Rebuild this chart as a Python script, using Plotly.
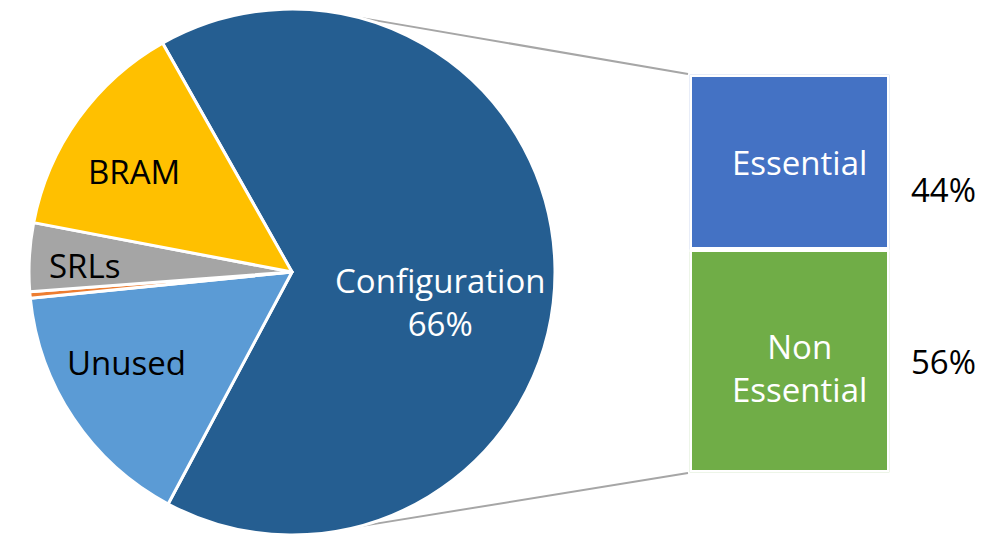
import math
import plotly.graph_objects as go

# Main pie: share of bits by category
pie_labels = ["Configuration", "Unused", "Other", "SRLs", "BRAM"]
pie_values = [66, 15.6, 0.4, 4.2, 13.8]
pie_colors = ["#255E91", "#5B9BD5", "#ED7D31", "#A5A5A5", "#FFC000"]

# Breakdown of the Configuration slice
bar_labels = ["Non<br>Essential", "Essential"]
bar_values = [56, 44]
bar_colors = ["#70AD47", "#4472C4"]

W, H = 1003, 536
FONT = "Open Sans, sans-serif"
FS = 33

# pie geometry (pixels from top-left)
cx, cy, R = 292, 272, 263
rotation = -29.5  # start angle of the first slice, clockwise from 12 o'clock

def px_to_paper(x, y):
    return x / W, 1 - y / H

fig = go.Figure()

fig.add_trace(go.Pie(
    labels=pie_labels,
    values=pie_values,
    sort=False,
    direction="clockwise",
    rotation=rotation,
    marker=dict(colors=pie_colors, line=dict(color="white", width=3)),
    textinfo="none",
    hoverinfo="label+percent",
    domain=dict(x=[(cx - R) / W, (cx + R) / W],
                y=[(H - cy - R) / H, (H - cy + R) / H]),
    showlegend=False,
))

# stacked bar for the Configuration breakdown
bar_px = dict(x0=692, x1=887, y0=77, y1=470)
LINE_W = 5
half = LINE_W / 2
xdom = [(bar_px["x0"] - half) / W, (bar_px["x1"] + half) / W]
ydom = [(H - bar_px["y1"] - half) / H, (H - bar_px["y0"] + half) / H]

# per-segment label nudges (pixels): (name xshift, name yshift, value yshift)
bar_shift = {"Essential": (10, 0, -27), "Non<br>Essential": (10, -7, 0)}

base = 0
for lab, val, col in zip(bar_labels, bar_values, bar_colors):
    fig.add_trace(go.Bar(
        x=[0], y=[val], base=[base], width=[1],
        marker=dict(color=col, line=dict(color="white", width=LINE_W)),
        hoverinfo="none", showlegend=False, xaxis="x", yaxis="y",
    ))
    sx, sy, vy = bar_shift[lab]
    fig.add_annotation(
        x=0, xref="x", y=base + val / 2, yref="y",
        xanchor="center", yanchor="middle", align="center",
        text=lab, showarrow=False, xshift=sx, yshift=sy,
        font=dict(size=FS, color="white", family=FONT),
    )
    fig.add_annotation(
        x=(bar_px["x1"] + 56) / W, xref="paper",
        y=base + val / 2, yref="y",
        xanchor="center", yanchor="middle",
        text=f"{val}%", showarrow=False, yshift=vy,
        font=dict(size=FS, color="black", family=FONT),
    )
    base += val

total = sum(pie_values)

# slice labels placed inside the pie
label_pos = {
    "Configuration": (440, 302),
    "BRAM": (134, 172),
    "SRLs": (84, 265),
    "Unused": (126, 362),
}
for lab, val in zip(pie_labels, pie_values):
    if lab not in label_pos:
        continue
    x, y = px_to_paper(*label_pos[lab])
    if lab == "Configuration":
        txt = f"{lab}<br>{round(100 * val / total)}%"
        color = "white"
    else:
        txt = lab
        color = "black"
    fig.add_annotation(x=x, y=y, xref="paper", yref="paper", text=txt,
                       xanchor="center", yanchor="middle",
                       showarrow=False, align="center",
                       font=dict(size=FS, color=color, family=FONT))

# connector lines from the Configuration slice edge to the bar corners
def pie_edge(angle_deg):
    a = math.radians(angle_deg)
    return cx + R * math.sin(a), cy - R * math.cos(a)

for ang, (bx, by) in [(14.5, (688, 74)), (165.5, (688, 473))]:
    px, py = pie_edge(ang)
    x0, y0 = px_to_paper(px, py)
    x1, y1 = px_to_paper(bx, by)
    fig.add_shape(type="line", xref="paper", yref="paper",
                  x0=x0, y0=y0, x1=x1, y1=y1,
                  line=dict(color="#A6A6A6", width=2), layer="below")

fig.update_layout(
    width=W, height=H,
    margin=dict(l=0, r=0, t=0, b=0),
    paper_bgcolor="white", plot_bgcolor="white",
    barmode="overlay",
    xaxis=dict(domain=xdom, range=[-0.5, 0.5], visible=False, fixedrange=True),
    yaxis=dict(domain=ydom, range=[0, 100], visible=False, fixedrange=True),
    font=dict(family=FONT),
)

fig.write_html("out.html")
